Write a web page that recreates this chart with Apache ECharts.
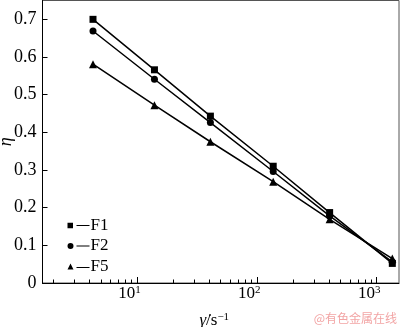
<!DOCTYPE html>
<html>
<head>
<meta charset="utf-8">
<script src="https://cdn.jsdelivr.net/npm/echarts@6/dist/echarts.min.js"></script>
<style>
html,body{margin:0;padding:0;background:#fff;}
#c{width:400px;height:327px;}
</style>
</head>
<body>
<div id="c"></div>
<script>
// ---- data ----
const shearRates = [4.3, 14, 41, 137, 405, 1350];
const seriesNames = ['F1', 'F2', 'F5'];
const f1Values = [0.700, 0.566, 0.443, 0.310, 0.187, 0.052];
const f2Values = [0.669, 0.541, 0.426, 0.296, 0.178, 0.056];
const f5Values = [0.581, 0.472, 0.375, 0.269, 0.169, 0.065];
const xMajorTicks = [10, 100, 1000];
const xMinorTicks = [2,3,4,5,6,7,8,9,20,30,40,50,60,70,80,90,200,300,400,500,600,700,800,900];
const yTickValues = [0, 0.1, 0.2, 0.3, 0.4, 0.5, 0.6, 0.7];

const FONT = '"Liberation Serif", "Times New Roman", serif';
const symbols = ['rect', 'circle', 'triangle'];
const symbolSizes = [7, 7, 8];
const legendIcons = [
  'path://M0,0.25 L5.5,0.25 L5.5,5.75 L0,5.75 Z M9,2.4 L22,2.4 L22,3.6 L9,3.6 Z',
  'path://M0,3 A3,3 0 1,1 6,3 A3,3 0 1,1 0,3 Z M9,2.4 L22,2.4 L22,3.6 L9,3.6 Z',
  'path://M3,0 L6,6 L0,6 Z M9,3.4 L22,3.4 L22,4.6 L9,4.6 Z'
];
const allValues = [f1Values, f2Values, f5Values];

const xMin = 1.63, xMax = 1535;

const chart = echarts.init(document.getElementById('c'), null, {renderer: 'canvas'});
chart.setOption({
  animation: false,
  backgroundColor: '#fff',
  grid: {left: 42.5, right: 1, top: 0.5, bottom: 44, show: true, borderColor: '#555', borderWidth: 1,
         containLabel: false, outerBoundsMode: 'none'},
  legend: {
    orient: 'vertical', left: 62.5, top: 212,
    itemWidth: 22, itemHeight: 6, itemGap: 3.5,
    data: seriesNames.map((n, i) => ({name: n, icon: legendIcons[i]})),
    textStyle: {fontFamily: FONT, fontSize: 17, color: '#000', padding: [0, 0, 0, -4], lineHeight: 16}
  },
  xAxis: [
    {
      type: 'log', logBase: 10, min: xMin, max: xMax,
      axisLine: {show: true, lineStyle: {color: '#000', width: 1}},
      axisTick: {show: true, inside: true, length: 6, lineStyle: {color: '#000'}, customValues: xMajorTicks},
      axisLabel: {
        customValues: xMajorTicks, margin: 2, padding: [0, 15, 0, 0],
        formatter: v => '{b|10}{s|' + Math.round(Math.log10(v)) + '}',
        rich: {
          b: {fontFamily: FONT, fontSize: 17, color: '#000', verticalAlign: 'bottom'},
          s: {fontFamily: FONT, fontSize: 11, color: '#000', verticalAlign: 'top', padding: [0, 0, 6, 0]}
        }
      },
      splitLine: {show: false},
      name: '{g|γ̇}{t|/s}{s|−1}', nameLocation: 'middle', nameGap: 29, nameMoveOverlap: false,
      nameTextStyle: {
        padding: [0, 13, 0, 0],
        rich: {
          g: {fontFamily: FONT, fontSize: 17, fontStyle: 'italic', color: '#000'},
          t: {fontFamily: FONT, fontSize: 17, color: '#000'},
          s: {fontFamily: FONT, fontSize: 11, color: '#000', padding: [0, 0, 7, 0]}
        }
      }
    },
    {
      type: 'log', logBase: 10, min: xMin, max: xMax, position: 'bottom',
      axisLine: {show: false},
      axisTick: {show: true, inside: true, length: 3.5, lineStyle: {color: '#000'}, customValues: xMinorTicks},
      axisLabel: {show: false},
      splitLine: {show: false}
    }
  ],
  yAxis: {
    type: 'value', min: 0, max: 0.75, interval: 0.1,
    axisLine: {show: true, lineStyle: {color: '#000', width: 1}},
    axisTick: {show: true, inside: true, length: 5, lineStyle: {color: '#000'}, customValues: yTickValues},
    axisLabel: {
      customValues: yTickValues, margin: 6,
      fontFamily: FONT, fontSize: 18, color: '#000',
      formatter: v => v === 0 ? '0' : v.toFixed(1)
    },
    splitLine: {show: false},
    name: 'η', nameLocation: 'middle', nameGap: 27, nameMoveOverlap: false,
    nameTextStyle: {fontFamily: FONT, fontSize: 18, fontStyle: 'italic', color: '#000'}
  },
  series: seriesNames.map((n, i) => ({
    name: n, type: 'line', xAxisIndex: 0,
    data: shearRates.map((x, j) => [x, allValues[i][j]]),
    symbol: symbols[i], symbolSize: symbolSizes[i],
    lineStyle: {color: '#000', width: 1.5},
    itemStyle: {color: '#000'},
    z: 3 - i
  })),
  graphic: [{
    type: 'text', right: 3, bottom: 3,
    style: {text: '@有色金属在线', fontFamily: '"Noto Sans CJK SC", sans-serif', fontSize: 12, fill: '#f2a4a4'}
  }]
});
</script>
</body>
</html>
